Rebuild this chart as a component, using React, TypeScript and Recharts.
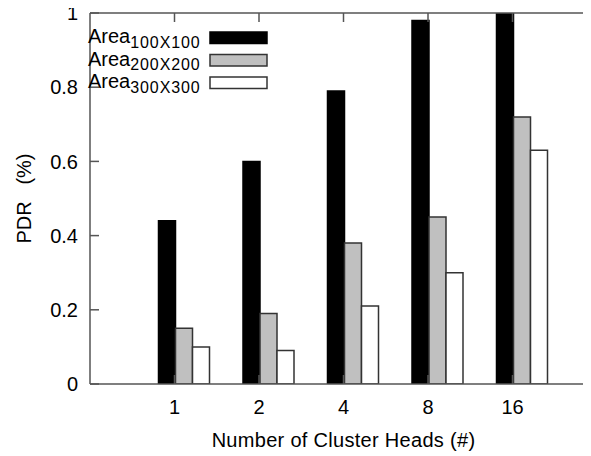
import React from 'react';
import { BarChart, Bar, XAxis, YAxis, Legend } from 'recharts';

const categories = ['1', '2', '4', '8', '16'];
const area100 = [0.44, 0.6, 0.79, 0.98, 1.0];
const area200 = [0.15, 0.19, 0.38, 0.45, 0.72];
const area300 = [0.1, 0.09, 0.21, 0.3, 0.63];
const yTicks = [0, 0.2, 0.4, 0.6, 0.8, 1];
const seriesKeys = ['a100', 'a200', 'a300'];
const seriesSubs = ['100X100', '200X200', '300X300'];
const seriesFills = ['#000000', '#c0c0c0', '#ffffff'];
const seriesStrokes = ['#000000', '#333333', '#333333'];

const data = categories.map((c, i) => ({
  cat: c,
  a100: area100[i],
  a200: area200[i],
  a300: area300[i],
}));

const FONT = '"Liberation Sans", Arial, Helvetica, sans-serif';
const AXIS = '#555555';

const renderLegend = (props: any) => {
  const payload = props.payload || [];
  return (
    <svg width={200} height={75} style={{ display: 'block', overflow: 'visible' }}>
      {payload.map((entry: any, i: number) => (
        <g key={i}>
          <text x={0} y={19 + 22.5 * i} fontFamily={FONT} fontSize={20} fill="#000">
            Area
            <tspan dy={4.7} fontSize={16} letterSpacing={0.9}>
              {seriesSubs[i]}
            </tspan>
          </text>
          <rect
            x={122}
            y={8 + 22.5 * i}
            width={57}
            height={11.5}
            fill={seriesFills[i]}
            stroke={seriesStrokes[i]}
            strokeWidth={1.5}
          />
        </g>
      ))}
    </svg>
  );
};

export default function App() {
  return (
    <div
      style={{
        marginLeft: -8,
        marginTop: -8,
        width: 591,
        height: 456,
        overflow: 'hidden',
        position: 'relative',
        background: '#fff',
      }}
    >
      <BarChart
        width={600}
        height={456}
        data={data}
        margin={{ top: 12, right: 0, bottom: 0, left: 0 }}
        barGap={0}
      >
        <XAxis
          xAxisId="labels"
          dataKey="cat"
          height={72}
          padding={{ left: 42.25, right: 42.25 }}
          tickSize={-9}
          tickMargin={25}
          axisLine={{ stroke: AXIS, strokeWidth: 1.5 }}
          tickLine={{ stroke: AXIS, strokeWidth: 1.5 }}
          tick={{ fill: '#000', fontSize: 20, fontFamily: FONT }}
          label={{
            value: 'Number of Cluster Heads (#)',
            position: 'insideBottom',
            offset: 9,
            style: { fill: '#000', fontSize: 20, fontFamily: FONT, letterSpacing: 0.3 },
          }}
        />
        <XAxis xAxisId="bars" dataKey="cat" hide height={0} padding={{ left: 51.5, right: 33 }} />
        <XAxis
          xAxisId="top"
          orientation="top"
          dataKey="cat"
          height={1}
          padding={{ left: 42.25, right: 42.25 }}
          tickSize={-9}
          tickFormatter={() => ''}
          axisLine={{ stroke: AXIS, strokeWidth: 1.5 }}
          tickLine={{ stroke: AXIS, strokeWidth: 1.5 }}
        />
        <YAxis
          yAxisId="left"
          width={90}
          domain={[0, 1]}
          ticks={yTicks}
          allowDataOverflow
          tickSize={-9}
          tickMargin={21}
          tickFormatter={(v: number) => String(v)}
          axisLine={{ stroke: AXIS, strokeWidth: 1.5 }}
          tickLine={{ stroke: AXIS, strokeWidth: 1.5 }}
          tick={{ fill: '#000', fontSize: 20, fontFamily: FONT }}
          label={{
            value: 'PDR\u00A0\u00A0\u00A0(%)',
            angle: -90,
            position: 'insideLeft',
            offset: 24,
            style: { fill: '#000', fontSize: 20, fontFamily: FONT, textAnchor: 'middle' },
          }}
        />
        <YAxis
          yAxisId="right"
          orientation="right"
          width={3}
          domain={[0, 1]}
          ticks={yTicks}
          allowDataOverflow
          tickSize={-9}
          tickFormatter={() => ''}
          axisLine={{ stroke: AXIS, strokeWidth: 1.5 }}
          tickLine={{ stroke: AXIS, strokeWidth: 1.5 }}
        />
        <Legend
          layout="vertical"
          align="center"
          verticalAlign="middle"
          wrapperStyle={{ left: 88, top: 24, width: 200, height: 75 }}
          content={renderLegend}
        />
        {seriesKeys.map((k, i) => (
          <Bar
            key={k}
            dataKey={k}
            name={'Area' + seriesSubs[i]}
            xAxisId="bars"
            yAxisId="left"
            barSize={17}
            fill={seriesFills[i]}
            stroke={seriesStrokes[i]}
            strokeWidth={1.5}
            isAnimationActive={false}
          />
        ))}
      </BarChart>
    </div>
  );
}
